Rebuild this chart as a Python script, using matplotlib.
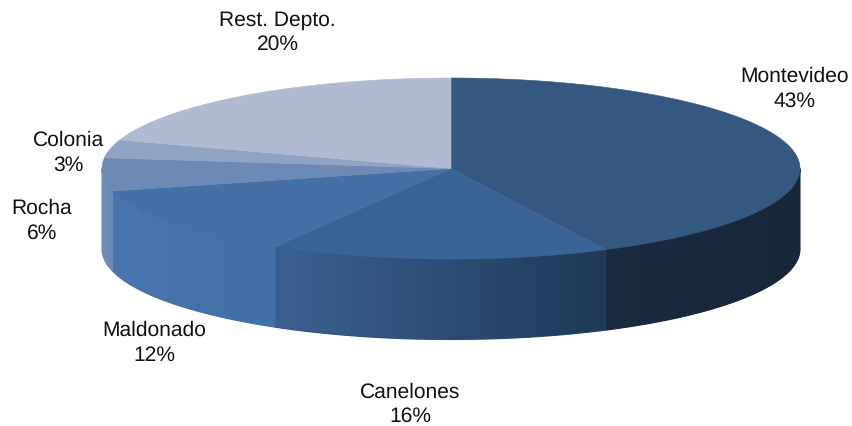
import numpy as np
import matplotlib
matplotlib.use("Agg")
import matplotlib.pyplot as plt
from matplotlib.patches import Polygon
from matplotlib.colors import to_rgb

categories = ["Montevideo", "Canelones", "Maldonado", "Rocha", "Colonia", "Rest. Depto."]
values = [42.7, 15.7, 12.6, 5.9, 3.2, 19.9]
pct_labels = ["43%", "16%", "12%", "6%", "3%", "20%"]
top_colors = ["#34587f", "#3b6496", "#4470a6", "#6c8ab3", "#8fa3c3", "#b0bbd1"]
# side wall colours: at the edge of each slice towards the left of the picture / the right
side_leftx = ["#1b2c40", "#3a6291", "#4676ad", "#7090bb", "#8fa3c3", "#b0bbd1"]
side_rightx = ["#18263a", "#1f3a58", "#4070a6", "#6a89b4", "#8fa3c3", "#b0bbd1"]
label_pos = [(795, 89), (410, 404.5), (154.5, 343), (42, 221), (68.5, 153), (277.5, 32)]

cx, cy, rx, ry, depth = 451, 169.5, 349, 90.5, 80.5

plt.rcParams["font.family"] = ["Liberation Sans", "DejaVu Sans"]
plt.rcParams["text.hinting"] = "no_hinting"
plt.rcParams["text.hinting_factor"] = 1
fig = plt.figure(figsize=(8.53, 4.27), dpi=100)
ax = fig.add_axes([0, 0, 1, 1])


def pt(t):
    return cx + rx * np.sin(t), cy - ry * np.cos(t)


edges = np.concatenate([[0], np.cumsum(values)]) / np.sum(values) * 2 * np.pi

# side wall: only the front half (pi/2 .. 3pi/2) is visible
for i in range(len(values)):
    a = max(edges[i], np.pi / 2)
    b = min(edges[i + 1], 3 * np.pi / 2)
    if b <= a:
        continue
    ts = np.linspace(a, b, 200)
    xs, ys = pt(ts)
    outline = np.column_stack([np.r_[xs, xs[::-1]], np.r_[ys, ys[::-1] + depth]])
    mean_col = np.mean([to_rgb(side_leftx[i]), to_rgb(side_rightx[i])], axis=0)
    # solid base under the gradient: closes the seams and softens the outer edge
    ax.add_patch(Polygon(outline, closed=True, facecolor=mean_col, edgecolor=mean_col,
                         linewidth=0.8, zorder=1))
    x0, x1 = xs.min(), xs.max()
    y0, y1 = ys.min(), ys.max() + depth
    grad = np.linspace(to_rgb(side_leftx[i]), to_rgb(side_rightx[i]), 256)[None, :, :]
    im = ax.imshow(grad, extent=[x0, x1, y1, y0], aspect="auto",
                   interpolation="bilinear", zorder=1.5)
    clip = Polygon(outline, closed=True, transform=ax.transData)
    im.set_clip_path(clip)

# top face
for i in range(len(values)):
    ts = np.linspace(edges[i], edges[i + 1], 200)
    xs, ys = pt(ts)
    poly = np.column_stack([np.r_[cx, xs], np.r_[cy, ys]])
    ax.add_patch(Polygon(poly, closed=True, facecolor=top_colors[i],
                         edgecolor=top_colors[i], linewidth=0.4, zorder=2))

for name, pct, (x, y) in zip(categories, pct_labels, label_pos):
    ax.text(x, y, f"{name}\n{pct}", ha="center", va="center", fontsize=15.3,
            color="#111111", linespacing=1.32, zorder=3)

ax.set_xlim(0, 853)
ax.set_ylim(427, 0)
ax.axis("off")

fig.savefig("out.png", dpi=100)
